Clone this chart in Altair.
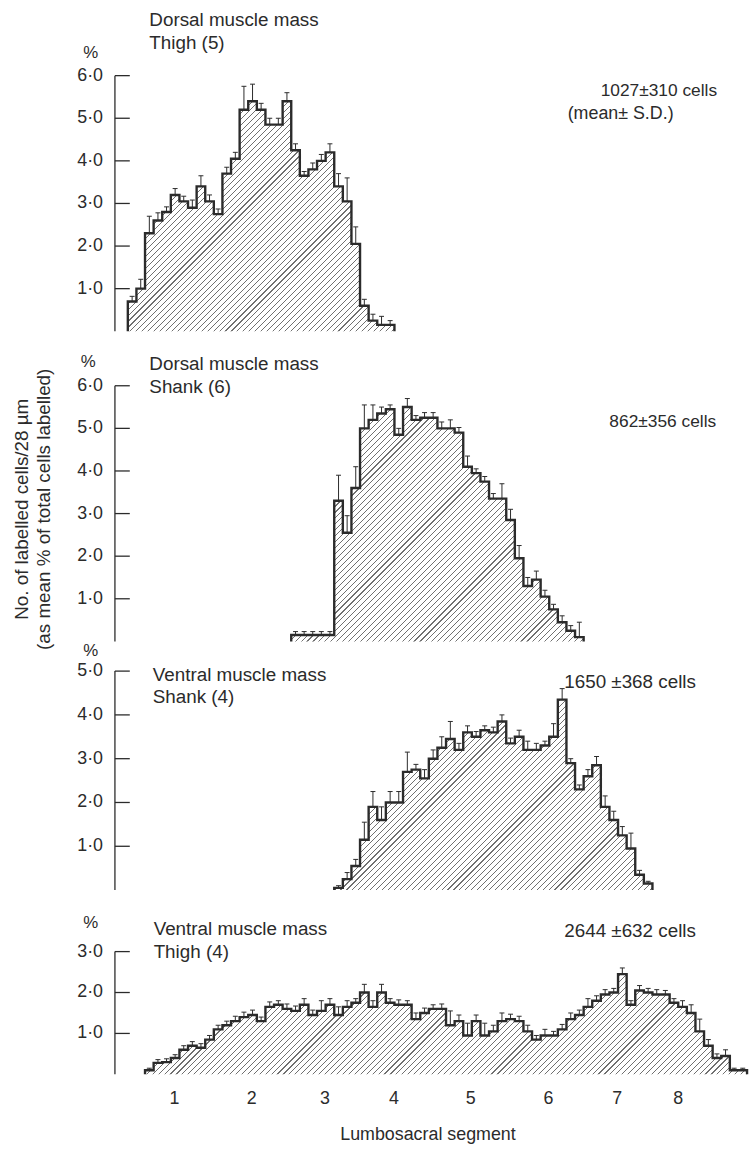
import altair as alt
import pandas as pd
import numpy as np

# ---------------- data ----------------
segment_bounds = [2.15, 10.68, 20.12, 27.73, 36.14, 45.58, 54.22, 61.6, 68.39]
segment_labels = ["1", "2", "3", "4", "5", "6", "7", "8"]

# Dorsal muscle mass, thigh (5)
dt_start = 1
dt_mean = [0.70, 1.00, 2.30, 2.60, 2.80, 3.20, 3.05, 2.90, 3.40, 3.05, 2.75, 3.70, 4.05, 5.20, 5.40,
           5.20, 4.85, 4.85, 5.40, 4.25, 3.65, 3.80, 4.00, 4.20, 3.40, 3.05, 2.05, 0.60, 0.25, 0.15, 0.15]
dt_sd = [0.12, 0.22, 0.40, 0.18, 0.12, 0.15, 0.12, 0.18, 0.25, 0.15, 0.12, 0.15, 0.15, 0.55, 0.40,
         0.15, 0.15, 0.15, 0.20, 0.15, 0.10, 0.15, 0.15, 0.20, 0.30, 0.55, 0.40, 0.15, 0.15, 0.20, 0.10]

# Dorsal muscle mass, shank (6)
ds_start = 20
ds_mean = [0.15, 0.15, 0.15, 0.15, 0.15, 3.30, 2.55, 3.60, 5.00, 5.20, 5.35, 5.45, 4.85, 5.50, 5.20,
           5.25, 5.25, 5.00, 5.00, 4.90, 4.10, 3.95, 3.75, 3.35, 3.35, 2.85, 1.95, 1.30, 1.45, 1.05,
           0.75, 0.45, 0.25, 0.10]
ds_sd = [0.08, 0.08, 0.08, 0.08, 0.08, 0.60, 0.40, 0.50, 0.55, 0.35, 0.15, 0.10, 0.15, 0.20, 0.10,
         0.12, 0.12, 0.15, 0.20, 0.12, 0.25, 0.10, 0.12, 0.12, 0.35, 0.25, 0.30, 0.20, 0.20, 0.15,
         0.12, 0.15, 0.12, 0.35]

# Ventral muscle mass, shank (4)
vs_start = 25
vs_mean = [0.05, 0.25, 0.55, 1.15, 1.90, 1.60, 2.00, 2.00, 2.70, 2.75, 2.55, 3.00, 3.25, 3.45, 3.20,
           3.60, 3.50, 3.65, 3.60, 3.85, 3.35, 3.50, 3.20, 3.20, 3.30, 3.50, 4.35, 2.90, 2.30, 2.60,
           2.85, 1.90, 1.60, 1.25, 0.95, 0.35, 0.15]
vs_sd = [0.05, 0.15, 0.15, 0.40, 0.35, 0.30, 0.25, 0.25, 0.45, 0.12, 0.20, 0.20, 0.25, 0.40, 0.15,
         0.15, 0.12, 0.10, 0.12, 0.15, 0.12, 0.15, 0.20, 0.15, 0.10, 0.30, 0.25, 0.10, 0.10, 0.15,
         0.20, 0.25, 0.20, 0.20, 0.35, 0.10, 0.05]

# Ventral muscle mass, thigh (4)
vt_start = 3
vt_mean = [0.10, 0.28, 0.30, 0.40, 0.60, 0.70, 0.65, 0.85, 1.10, 1.20,
           1.30, 1.40, 1.45, 1.30, 1.65, 1.70, 1.60, 1.55, 1.70, 1.45,
           1.55, 1.70, 1.45, 1.65, 1.75, 2.00, 1.65, 2.00, 1.75, 1.70,
           1.70, 1.35, 1.50, 1.60, 1.60, 1.20, 1.30, 0.95, 1.30, 0.95,
           1.05, 1.30, 1.35, 1.30, 1.05, 0.85, 0.95, 0.95, 1.10, 1.35,
           1.45, 1.65, 1.80, 1.95, 2.00, 2.45, 1.70, 2.05, 2.00, 1.95,
           1.95, 1.75, 1.65, 1.50, 1.05, 0.70, 0.40, 0.45, 0.10, 0.10]
vt_sd = [0.05, 0.08, 0.08, 0.08, 0.10, 0.10, 0.10, 0.10, 0.10, 0.10,
         0.12, 0.12, 0.12, 0.10, 0.12, 0.10, 0.12, 0.12, 0.15, 0.12,
         0.25, 0.15, 0.20, 0.15, 0.10, 0.20, 0.15, 0.20, 0.10, 0.12,
         0.10, 0.15, 0.12, 0.10, 0.12, 0.35, 0.15, 0.30, 0.15, 0.30,
         0.15, 0.20, 0.12, 0.12, 0.15, 0.10, 0.15, 0.10, 0.12, 0.15,
         0.12, 0.20, 0.12, 0.12, 0.10, 0.15, 0.10, 0.12, 0.10, 0.12,
         0.10, 0.10, 0.15, 0.20, 0.30, 0.15, 0.10, 0.15, 0.05, 0.05]

# ---------------- style ----------------
FONT = "Liberation Sans"
INK = "#2b2b2b"
PLOT_W = 638
XDOM = [-0.5, 73.0]
BW = PLOT_W / (XDOM[1] - XDOM[0])  # pixels per bin


def hatch(W, H, period=6.0, lw=1.1, line="#707070", bg="#ffffff"):
    a = (W + H) / (W * W + H * H)
    tot = W + H
    stops = []
    i = 0
    while i * period < tot:
        t0 = i * period / tot
        t1 = min((i * period + lw) / tot, 1.0)
        t2 = min((i + 1) * period / tot, 1.0)
        stops += [{"offset": t0, "color": line}, {"offset": t1, "color": line},
                  {"offset": t1, "color": bg}, {"offset": t2, "color": bg}]
        i += 1
    return {"gradient": "linear", "x1": 0, "y1": 0, "x2": W * a, "y2": H * a, "stops": stops}


def label(text, x, y, align="left", size=19, angle=0):
    return alt.Chart(pd.DataFrame({"t": [text], "x": [x], "y": [y]})).mark_text(
        align=align, baseline="middle", fontSize=size, font=FONT, color=INK, angle=angle
    ).encode(x=alt.X("x:Q", axis=None), y=alt.Y("y:Q", axis=None), text="t:N")


def panel(start, mean, sd, ticks, height, ppu, texts):
    n = len(mean)
    xs = [start + i for i in range(n)]
    area_df = pd.DataFrame({"x": xs + [start + n], "v": mean + [mean[-1]]})
    line_df = pd.DataFrame({"x": [start] + xs + [start + n, start + n],
                            "v": [0.0] + mean + [mean[-1], 0.0]})
    line_df["o"] = range(len(line_df))
    err_df = pd.DataFrame({"c": [x + 0.5 for x in xs], "lo": mean,
                           "hi": [m + s for m, s in zip(mean, sd)]})
    xsc = alt.Scale(domain=XDOM, nice=False, zero=False)
    ysc = alt.Scale(domain=[0, height / ppu], nice=False)
    xaxis = alt.Axis(values=segment_bounds, labels=False, ticks=True, tickSize=15, domain=True,
                     grid=False, title=None, domainColor=INK, tickColor=INK, domainWidth=1.3,
                     tickWidth=1.3)
    W = n * BW
    H = max(mean) * ppu
    area = alt.Chart(area_df).mark_area(interpolate="step-after", fill=hatch(W, H)).encode(
        x=alt.X("x:Q", scale=xsc, axis=xaxis), y=alt.Y("v:Q", scale=ysc, axis=None))
    err_v = alt.Chart(err_df).mark_rule(color=INK, strokeWidth=1).encode(
        x=alt.X("c:Q", axis=None), y=alt.Y("lo:Q", axis=None), y2="hi:Q")
    err_c = alt.Chart(err_df).mark_rule(color=INK, strokeWidth=1, xOffset=-2.5, x2Offset=2.5).encode(
        x=alt.X("c:Q", axis=None), x2="c:Q", y=alt.Y("hi:Q", axis=None))
    outline = alt.Chart(line_df).mark_line(interpolate="step-after", color=INK, strokeWidth=2.4,
                                           strokeJoin="miter").encode(
        x=alt.X("x:Q", axis=None), y=alt.Y("v:Q", axis=None), order="o:Q")
    frame_df = pd.DataFrame({"x0": [XDOM[0]], "y0": [0.0], "top": [float(max(ticks))]})
    vline = alt.Chart(frame_df).mark_rule(color=INK, strokeWidth=1.3).encode(
        x=alt.X("x0:Q", axis=None), y=alt.Y("y0:Q", axis=None), y2="top:Q")
    tick_df = pd.DataFrame({"t": [float(t) for t in ticks], "x0": [XDOM[0]] * len(ticks),
                            "lab": [f"{t:.1f}".replace(".", "·") for t in ticks]})
    yticks = alt.Chart(tick_df).mark_rule(color=INK, strokeWidth=1.3, x2Offset=15).encode(
        x=alt.X("x0:Q", axis=None), x2="x0:Q", y=alt.Y("t:Q", axis=None))
    ylabels = alt.Chart(tick_df).mark_text(align="right", baseline="middle", dx=-12, fontSize=18,
                                           font=FONT, color=INK).encode(
        x=alt.X("x0:Q", axis=None), y=alt.Y("t:Q", axis=None), text="lab:N")
    return alt.layer(area, err_v, err_c, outline, vline, yticks, ylabels, *texts).properties(
        width=PLOT_W, height=height)


p1 = panel(dt_start, dt_mean, dt_sd, [1, 2, 3, 4, 5, 6], 327, 43.0, [
    label("Dorsal muscle mass", 3.5, 7.30),
    label("Thigh (5)", 3.5, 6.77),
    label("%", -3.3, 6.53, "center", 17),
    label("1027±310 cells", 62.75, 5.63, "center", 17.5),
    label("(mean± S.D.)", 58.3, 5.09, "center", 18),
])
p2 = panel(ds_start, ds_mean, ds_sd, [1, 2, 3, 4, 5, 6], 313, 43.0, [
    label("Dorsal muscle mass", 3.5, 6.51),
    label("Shank (6)", 3.5, 5.98),
    label("%", -3.6, 6.56, "center", 17),
    label("862±356 cells", 63.2, 5.16, "center", 17.5),
    label("No. of labelled cells/28 µm", -11.3, 3.1, "center", 19, 270),
    label("(as mean % of total cells labelled)", -8.75, 3.1, "center", 19, 270),
])
p3 = panel(vs_start, vs_mean, vs_sd, [1, 2, 3, 4, 5], 251, 44.2, [
    label("Ventral muscle mass", 3.9, 4.91),
    label("Shank (4)", 3.9, 4.41),
    label("%", -3.3, 5.46, "center", 17),
    label("1650 ±368 cells", 59.4, 4.75, "center", 19),
])

mid_df = pd.DataFrame({
    "m": [(a + b) / 2 for a, b in zip(segment_bounds[:-1], segment_bounds[1:])],
    "yy": [-0.6] * len(segment_labels),
    "lab": segment_labels,
})
seg_text = alt.Chart(mid_df).mark_text(fontSize=18, font=FONT, color=INK, baseline="middle").encode(
    x=alt.X("m:Q", axis=None), y=alt.Y("yy:Q", axis=None), text="lab:N")

p4 = panel(vt_start, vt_mean, vt_sd, [1, 2, 3], 186, 41.3, [
    label("Ventral muscle mass", 4.0, 3.54),
    label("Thigh (4)", 4.0, 2.98),
    label("%", -3.3, 3.70, "center", 17),
    label("2644 ±632 cells", 59.4, 3.49, "center", 19),
    seg_text,
    label("Lumbosacral segment", 35.9, -1.48, "center", 18),
])

chart = alt.vconcat(p1, p2, p3, p4, spacing=0, bounds="flush").resolve_scale(
    x="independent", y="independent"
).properties(
    padding={"left": 13, "top": 2, "right": 0, "bottom": 0},
    background="white",
).configure(font=FONT).configure_view(stroke=None)

chart.save("out.html", embed_options={"renderer": "svg", "actions": False})
